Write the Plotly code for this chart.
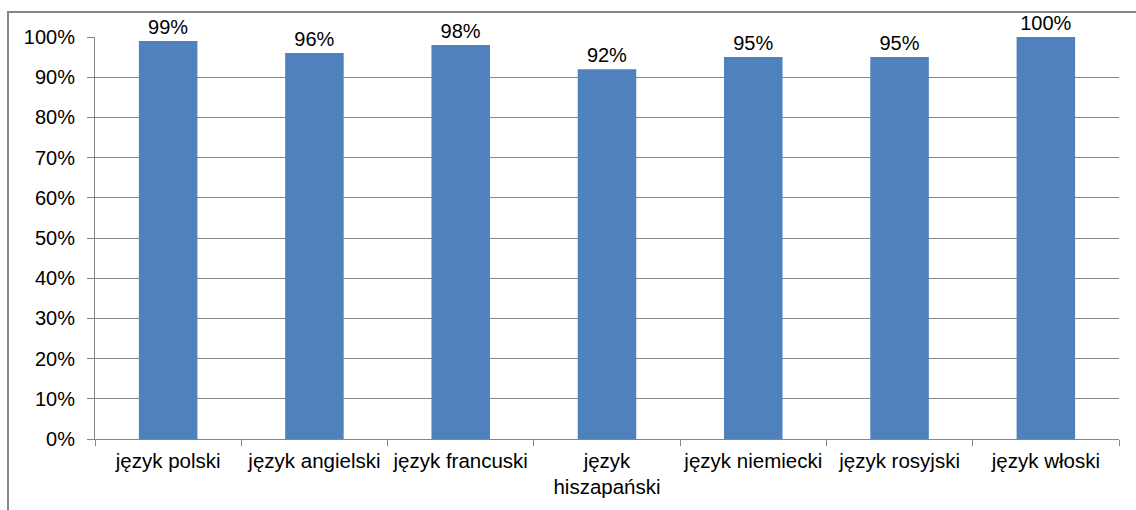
import plotly.graph_objects as go

categories = ["język polski", "język angielski", "język francuski", "język<br>hiszapański",
              "język niemiecki", "język rosyjski", "język włoski"]
values = [0.99, 0.96, 0.98, 0.92, 0.95, 0.95, 1.00]
labels = ["99%", "96%", "98%", "92%", "95%", "95%", "100%"]

W, H = 1136, 510
L, R, T, B = 95, 17, 37, 71

fig = go.Figure(go.Bar(
    x=categories, y=values, text=labels, textposition="outside",
    textfont=dict(family="Liberation Sans, Arial", size=20, color="#000000"),
    marker=dict(color="#4F81BD", line=dict(width=0)),
    cliponaxis=False, width=0.4,
))

fig.update_layout(
    width=W, height=H,
    margin=dict(l=L, r=R, t=T, b=B, autoexpand=False),
    paper_bgcolor="white", plot_bgcolor="white",
    font=dict(family="Liberation Sans, Arial", size=20, color="#000000"),
    showlegend=False,
    xaxis=dict(showline=True, linecolor="#868686", linewidth=1, automargin=False,
               ticks="outside", tickson="boundaries", ticklen=6, tickcolor="#868686",
               tickangle=0, tickfont=dict(size=20.5), showgrid=False, ticklabelstandoff=3),
    yaxis=dict(range=[0, 1], dtick=0.1, tickformat=".0%", showgrid=True, automargin=False,
               gridcolor="#868686", gridwidth=1, showline=True, linecolor="#868686",
               ticks="outside", ticklen=7, tickcolor="#868686", zeroline=False,
               tickfont=dict(size=20), ticklabelstandoff=8),
    shapes=[dict(type="rect", xref="paper", yref="paper",
                 x0=(8 - L) / (W - L - R), x1=(1150 - L) / (W - L - R),
                 y0=-(520 - (H - B)) / (H - T - B), y1=1 + (T - 12) / (H - T - B),
                 line=dict(color="#868686", width=2), fillcolor="rgba(0,0,0,0)", layer="below")],
)

fig.write_html("out.html", config={"displayModeBar": False},
               post_script="document.body.style.margin='0';")
